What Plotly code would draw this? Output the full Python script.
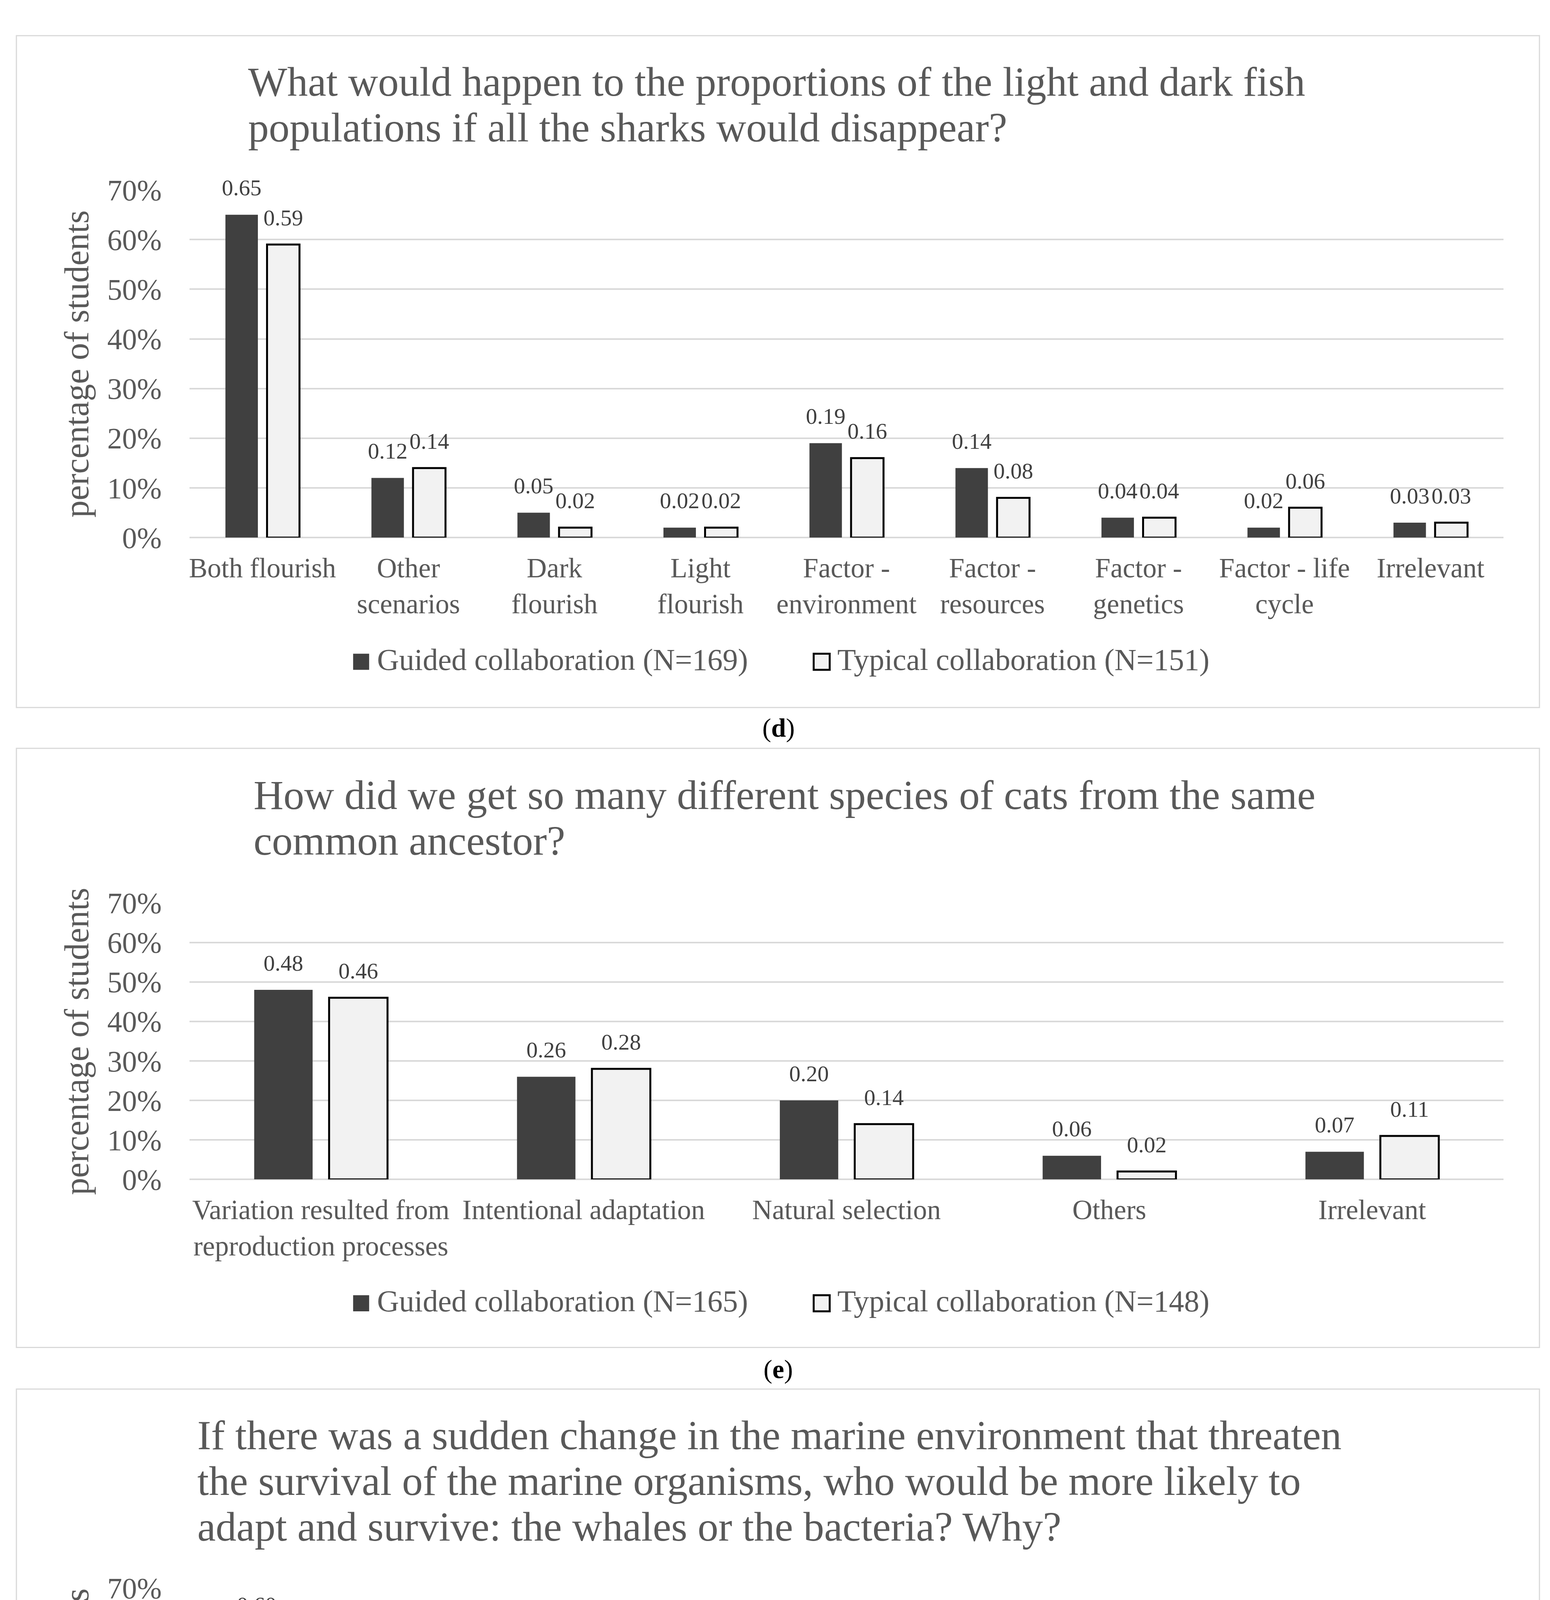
import plotly.graph_objects as go

W, H = 3967, 5431

# ---------------- data ----------------
d_title = ["What would happen to the proportions of the light and dark fish",
           "populations if all the sharks would disappear?"]
d_categories = ["Both flourish", "Other<br>scenarios", "Dark<br>flourish", "Light<br>flourish",
                "Factor -<br>environment", "Factor -<br>resources", "Factor -<br>genetics",
                "Factor - life<br>cycle", "Irrelevant"]
d_guided = [0.65, 0.12, 0.05, 0.02, 0.19, 0.14, 0.04, 0.02, 0.03]
d_typical = [0.59, 0.14, 0.02, 0.02, 0.16, 0.08, 0.04, 0.06, 0.03]
d_series = ["Guided collaboration (N=169)", "Typical collaboration (N=151)"]

e_title = ["How did we get so many different species of cats from the same",
           "common ancestor?"]
e_categories = ["Variation resulted from<br>reproduction processes", "Intentional adaptation",
                "Natural selection", "Others", "Irrelevant"]
e_guided = [0.48, 0.26, 0.20, 0.06, 0.07]
e_typical = [0.46, 0.28, 0.14, 0.02, 0.11]
e_series = ["Guided collaboration (N=165)", "Typical collaboration (N=148)"]

f_title = ["If there was a sudden change in the marine environment that threaten",
           "the survival of the marine organisms, who would be more likely to",
           "adapt and survive: the whales or the bacteria? Why?"]
f_categories = ["Speed of<br>reproduction", "Population size", "Others", "Body size and<br>complexity",
                "Species<br>biodiversity", "Environmental<br>pressures", "Irrelevant"]
f_guided = [0.60, 0.16, 0.10, 0.10, 0.09, 0.01, 0.06]
f_typical = [0.56, 0.11, 0.13, 0.11, 0.07, 0.02, 0.07]
f_series = ["Guided collaboration (N=164)", "Typical collaboration (N=145)"]

captions = ["d", "e", "f"]
y_tickvals = [0, 0.1, 0.2, 0.3, 0.4, 0.5, 0.6, 0.7]
y_axis_title = "percentage of students"

# ---------------- style / layout ----------------
FONT = "Liberation Serif"
GRAY = "#595959"
DARK = "#404040"
LIGHT = "#f2f2f2"
GRID = "#d9d9d9"

panels = [
    dict(title=d_title, cats=d_categories, g=d_guided, t=d_typical, series=d_series,
         box=(43, 1790), title_base=199, plot=(444, 1348), legend_y=1671, caption_y=1848),
    dict(title=e_title, cats=e_categories, g=e_guided, t=e_typical, series=e_series,
         box=(1896, 3454), title_base=2053, plot=(2298, 3017), legend_y=3339, caption_y=3516),
    dict(title=f_title, cats=f_categories, g=f_guided, t=f_typical, series=f_series,
         box=(3562, 5320), title_base=3718, plot=(4079, 4880), legend_y=5205, caption_y=5380),
]
title_left = [624, 638, 494]

def px(x):
    return x / W

def py(y):
    return 1 - y / H

fig = go.Figure()
shapes = []
annotations = []

X0, X1 = 476, 3840
TITLE_SIZE = 106
LINE_GAP = 119

for i, p in enumerate(panels):
    n = "" if i == 0 else str(i + 1)
    xa, ya = "x" + n, "y" + n
    cats = p["cats"]
    for vals, name, color, lw, grp in [(p["g"], p["series"][0], DARK, 0, "g"),
                                       (p["t"], p["series"][1], LIGHT, 5, "t")]:
        fig.add_trace(go.Bar(
            x=cats, y=vals, name=name, xaxis=xa, yaxis=ya, offsetgroup=grp,
            marker=dict(color=color, line=dict(color="black", width=lw)),
            showlegend=False, hoverinfo="skip"))
        fig.add_trace(go.Scatter(
            x=cats, y=vals, xaxis=xa, yaxis=ya, offsetgroup=grp,
            mode="markers+text", text=[f"{v:.2f}" for v in vals],
            textposition="top center",
            textfont=dict(family=FONT, size=58, color=DARK),
            marker=dict(size=54, color="rgba(0,0,0,0)"),
            cliponaxis=False, showlegend=False, hoverinfo="skip"))

    top, bot = p["plot"]
    fig.update_layout(**{
        "xaxis" + n: dict(domain=[px(X0), px(X1)], anchor=ya, type="category",
                          range=[-0.5, len(cats) - 0.5], showgrid=False, showline=False,
                          zeroline=False, ticks="", ticklabelstandoff=30,
                          tickfont=dict(family=FONT, size=71, color=GRAY)),
        "yaxis" + n: dict(domain=[py(bot), py(top)], anchor=xa, range=[0, 0.7],
                          tickvals=y_tickvals, tickformat=".0%", showgrid=True,
                          gridcolor=GRID, gridwidth=4, zeroline=True, zerolinecolor=GRID,
                          zerolinewidth=4, showline=False, ticks="", ticklabelstandoff=70,
                          tickfont=dict(family=FONT, size=76, color=GRAY)),
    })

    # panel border
    b0, b1 = p["box"]
    shapes.append(dict(type="rect", xref="paper", yref="paper", x0=px(33), x1=px(3932),
                       y0=py(b1), y1=py(b0), line=dict(color=GRID, width=3),
                       fillcolor="rgba(0,0,0,0)", layer="below"))

    # title lines
    for k, line in enumerate(p["title"]):
        base = p["title_base"] + k * LINE_GAP
        annotations.append(dict(xref="paper", yref="paper", x=px(title_left[i]),
                                y=py(base - 0.3375 * TITLE_SIZE), xanchor="left", yanchor="middle",
                                text=line, showarrow=False,
                                font=dict(family=FONT, size=TITLE_SIZE, color=GRAY)))

    # y axis title
    annotations.append(dict(xref="paper", yref="paper", x=px(187), y=py((top + bot) / 2),
                            xanchor="center", yanchor="middle", textangle=-90,
                            text=y_axis_title, showarrow=False,
                            font=dict(family=FONT, size=88, color=GRAY)))

    # legend
    ly = p["legend_y"]
    for (sx0, sx1, tx), name, fill, lw in [((895, 936, 954), p["series"][0], DARK, 0),
                                           ((2074, 2115, 2133), p["series"][1], LIGHT, 5)]:
        shapes.append(dict(type="rect", xref="paper", yref="paper", x0=px(sx0), x1=px(sx1),
                           y0=py(ly + 21), y1=py(ly - 21), fillcolor=fill,
                           line=dict(color="black", width=lw)))
        annotations.append(dict(xref="paper", yref="paper", x=px(tx), y=py(ly - 6),
                                xanchor="left", yanchor="middle", text=name, showarrow=False,
                                font=dict(family=FONT, size=78, color=GRAY)))

    # caption
    annotations.append(dict(xref="paper", yref="paper", x=0.5, y=py(p["caption_y"] - 6),
                            xanchor="center", yanchor="middle",
                            text=f"(<b>{captions[i]}</b>)", showarrow=False,
                            font=dict(family=FONT, size=68, color="black")))

fig.update_layout(
    width=W, height=H, margin=dict(l=0, r=0, t=0, b=0),
    paper_bgcolor="white", plot_bgcolor="white",
    barmode="group", bargap=0.43, bargroupgap=0.22,
    scattermode="group", scattergap=0.43,
    shapes=shapes, annotations=annotations,
)

fig.write_html("out.html")
